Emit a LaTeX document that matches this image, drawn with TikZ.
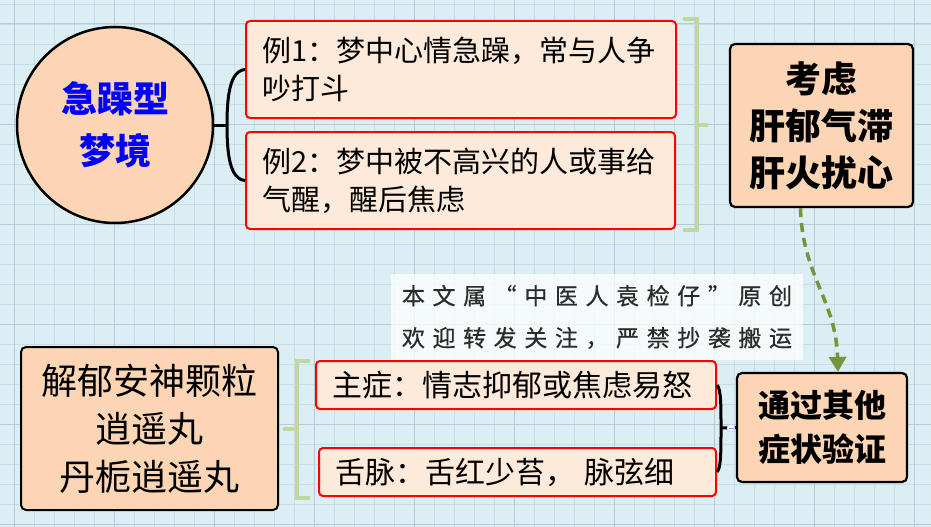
\documentclass[tikz,border=0pt]{standalone}
\usepackage{fontspec}
\setmainfont{Noto Sans CJK SC}
\newfontfamily\wmfont[LetterSpace=33,FakeBold=0.6]{Noto Sans CJK SC}
\usetikzlibrary{arrows.meta,calc}
\definecolor{bg}{HTML}{DBEEF3}
\definecolor{gridminor}{HTML}{C8DDE5}
\definecolor{gridmajor}{HTML}{B5CBD4}
\definecolor{peach}{HTML}{FCD5B4}
\definecolor{lightpeach}{HTML}{FDEADA}
\definecolor{olivelight}{HTML}{C3D69B}
\definecolor{olivedark}{HTML}{77933C}
\definecolor{wmtext}{HTML}{2B2B2B}
\tikzset{
  peachbox/.style={fill=peach, draw=black, line width=2.2pt, rounded corners=5pt, align=center, inner sep=0pt},
  exbox/.style={fill=lightpeach, draw=red, line width=2pt, rounded corners=4pt, align=left, inner xsep=16pt, inner ysep=0pt},
  bracebk/.style={draw=black, line width=3pt},
  bracegr/.style={draw=olivelight, line width=4pt},
}
\begin{document}
\begin{tikzpicture}[x=1pt,y=-1pt]
\useasboundingbox (0,0) rectangle (931,527);
\fill[bg] (0,0) rectangle (931,527);
\foreach \x in {14,34,...,930} \draw[gridminor, line width=0.8pt] (\x,0) -- (\x,527);
\foreach \y in {4,24,...,526} \draw[gridminor, line width=0.8pt] (0,\y) -- (931,\y);
\foreach \x in {14,114,...,930} \draw[gridmajor, line width=1pt] (\x,0) -- (\x,527);
\foreach \y in {24,124,...,526} \draw[gridmajor, line width=1pt] (0,\y) -- (931,\y);

% watermark
\node[fill=white, fill opacity=0.75, text opacity=1, minimum width=412pt, minimum height=86pt, inner sep=0pt, align=center, text=wmtext, font=\wmfont\fontsize{23pt}{42pt}\selectfont] (wm) at (597,317) {本文属“中医人袁检仔”原创\\欢迎转发关注，严禁抄袭搬运};

% upper part
\node[circle, fill=peach, draw=black, line width=2.5pt, minimum size=196pt, inner sep=0pt, align=center, text=blue, font=\bfseries\fontsize{36pt}{52pt}\selectfont] (c) at (115,125) {急躁型\\梦境};

\node[exbox, text width=398pt, minimum height=97pt, font=\fontsize{29pt}{38pt}\selectfont] (b1) at (461,69.5) {例1：梦中心情急躁，常与人争\\吵打斗};
\node[exbox, text width=397pt, minimum height=97pt, font=\fontsize{29pt}{38pt}\selectfont] (b2) at (460.5,180.5) {例2：梦中被不高兴的人或事给\\气醒，醒后焦虑};

\node[peachbox, minimum width=183pt, minimum height=163pt, font=\bfseries\fontsize{36pt}{47pt}\selectfont] (k) at (821.5,125.5) {考虑\\肝郁气滞\\肝火扰心};

\coordinate (bm) at (227,125);
\draw[bracebk] (c.east) -- (bm);
\draw[bracebk] (b1.west) .. controls (230,71) and (227,95) .. (bm) .. controls (227,155) and (230,179) .. (b2.west);

\draw[bracegr] (683,19) -- (697,19) -- (697,230) -- (683,230);
\draw[bracegr] (697,125) -- (708,125);

% lower part
\node[peachbox, line width=2pt, minimum width=257pt, minimum height=163pt, font=\fontsize{36pt}{48pt}\selectfont] (j) at (149.5,428.5) {解郁安神颗粒\\逍遥丸\\丹栀逍遥丸};

\node[exbox, text width=368pt, minimum height=48pt, font=\fontsize{30pt}{38pt}\selectfont] (s1) at (516,385) {主症：情志抑郁或焦虑易怒};
\node[exbox, text width=365pt, minimum height=48pt, font=\fontsize{30pt}{38pt}\selectfont] (s2) at (517.5,472) {舌脉：舌红少苔，\ 脉弦细};

\draw[bracegr] (310,361) -- (297,361) -- (297,498) -- (310,498);
\draw[bracegr] (283,429) -- (297,429);

\node[peachbox, minimum width=170pt, minimum height=109pt, font=\bfseries\fontsize{32pt}{44pt}\selectfont] (t) at (822,427.5) {通过其他\\症状验证};

\coordinate (bm2) at (721,428);
\draw[bracebk] (s1.east) .. controls (721,389) and (721,405) .. (bm2) .. controls (721,452) and (721,468) .. (s2.east);
\draw[bracebk] (bm2) -- (t.west);
\node[circle, fill=white, draw=blue!25, line width=0.6pt, minimum size=8pt, inner sep=0pt] (mn) at (731,428) {};
\draw[blue!40, line width=0.8pt] ($(mn.center)+(-2.5,0)$) -- ($(mn.center)+(2.5,0)$);

% dashed arrow
\draw[olivedark, line width=3.5pt, dash pattern=on 9pt off 6pt, -{Triangle[length=15pt,width=17pt]}]
  ($(k.south)+(-21,0)$) .. controls (802,275) and (836,300) .. ($(t.north)+(16,0)$);
\end{tikzpicture}
\end{document}
